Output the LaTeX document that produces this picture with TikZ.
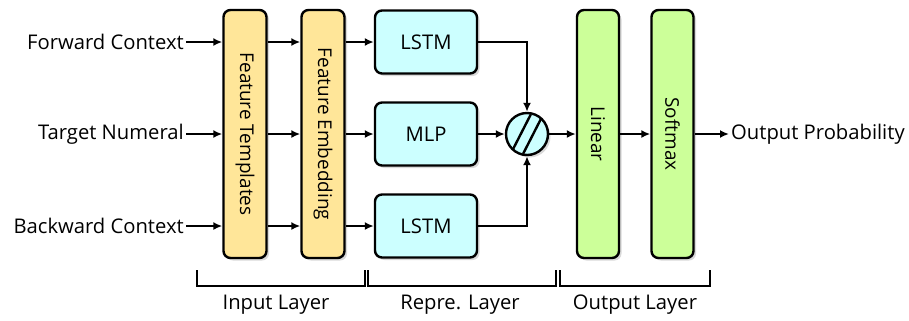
\documentclass[tikz,border=0pt]{standalone}
\usepackage{fontspec}
\setmainfont{Open Sans}
\usepackage{graphicx}
\usetikzlibrary{arrows.meta,shadows,calc}

\definecolor{inyellow}{RGB}{255,230,153}
\definecolor{repcyan}{RGB}{204,255,255}
\definecolor{outgreen}{RGB}{204,255,153}

\tikzset{
	every node/.style={font=\fontsize{20.3}{24}\selectfont},
	blk/.style={draw, line width=2.4bp, rounded corners=7bp, inner sep=0pt,
		drop shadow={shadow xshift=2.5bp, shadow yshift=-2.5bp, opacity=0.3}},
	inbox/.style={blk, fill=inyellow, minimum width=43bp, minimum height=248bp,
		font=\fontsize{19}{22}\selectfont},
	repbox/.style={blk, fill=repcyan, minimum width=102bp, minimum height=63bp},
	outbox/.style={blk, fill=outgreen, minimum width=42bp, minimum height=248bp,
		font=\fontsize{19}{22}\selectfont},
	conn/.style={line width=2.2bp, -{Latex[length=9bp,width=8bp]}},
	brk/.style={line width=1.8bp},
}

\begin{document}
\begin{tikzpicture}[x=1bp,y=-1bp]

	\useasboundingbox (0,0) rectangle (909,320);

	% inputs
	\node[anchor=east, inner sep=2bp] (fwd) at (186,42) {Forward Context};
	\node[anchor=east, inner sep=2bp] (tgt) at (186,134) {Target Numeral};
	\node[anchor=east, inner sep=2bp] (bwd) at (186,226) {Backward Context};

	% input layer
	\node[inbox] (ft) at (245,134) {\rotatebox{-90}{Feature Templates}};
	\node[inbox] (fe) at (323,134) {\rotatebox{-90}{Feature Embedding}};

	% representation layer
	\node[repbox] (lstm1) at (426,42) {LSTM};
	\node[repbox] (mlp) at (426,134) {MLP};
	\node[repbox] (lstm2) at (426,226) {LSTM};
	\node[draw, circle, line width=2.4bp, fill=repcyan, minimum size=42bp, inner sep=0pt,
		drop shadow={shadow xshift=2.5bp, shadow yshift=-2.5bp, opacity=0.3}] (cat) at (527,134) {};
	\draw[line width=2.4bp] ($(cat.center)+(3.8,-19.6)$) -- ($(cat.center)+(-14.5,16.2)$);
	\draw[line width=2.4bp] ($(cat.center)+(14.5,-16.2)$) -- ($(cat.center)+(-3.8,19.6)$);

	% output layer
	\node[outbox] (lin) at (598,134) {\rotatebox{-90}{Linear}};
	\node[outbox] (sm) at (672.5,134) {\rotatebox{-90}{Softmax}};
	\node[anchor=west, inner sep=2bp] (out) at (729,134) {Output Probability};

	% arrows
	\draw[conn] (fwd) -- (fwd -| ft.west);
	\draw[conn] (tgt) -- (tgt -| ft.west);
	\draw[conn] (bwd) -- (bwd -| ft.west);
	\draw[conn] (fwd -| ft.east) -- (fwd -| fe.west);
	\draw[conn] (tgt -| ft.east) -- (tgt -| fe.west);
	\draw[conn] (bwd -| ft.east) -- (bwd -| fe.west);
	\draw[conn] (lstm1 -| fe.east) -- (lstm1);
	\draw[conn] (mlp -| fe.east) -- (mlp);
	\draw[conn] (lstm2 -| fe.east) -- (lstm2);
	\draw[conn] (lstm1) -| (cat);
	\draw[conn] (mlp) -- (cat);
	\draw[conn] (lstm2) -| (cat);
	\draw[conn] (cat) -- (cat -| lin.west);
	\draw[conn] (cat -| lin.east) -- (cat -| sm.west);
	\draw[conn] (out -| sm.east) -- (out);

	% layer brackets
	\draw[brk] (197,270) -- (197,286) -- (365,286) -- (365,270);
	\draw[brk] (368,270) -- (368,286) -- (556,286) -- (556,270);
	\draw[brk] (560,270) -- (560,286) -- (710,286) -- (710,270);
	\node (inl) at (276,305) {Input Layer};
	\node (repl) at (460,305) {Repre. Layer};
	\node (outl) at (635,305) {Output Layer};

\end{tikzpicture}
\end{document}
